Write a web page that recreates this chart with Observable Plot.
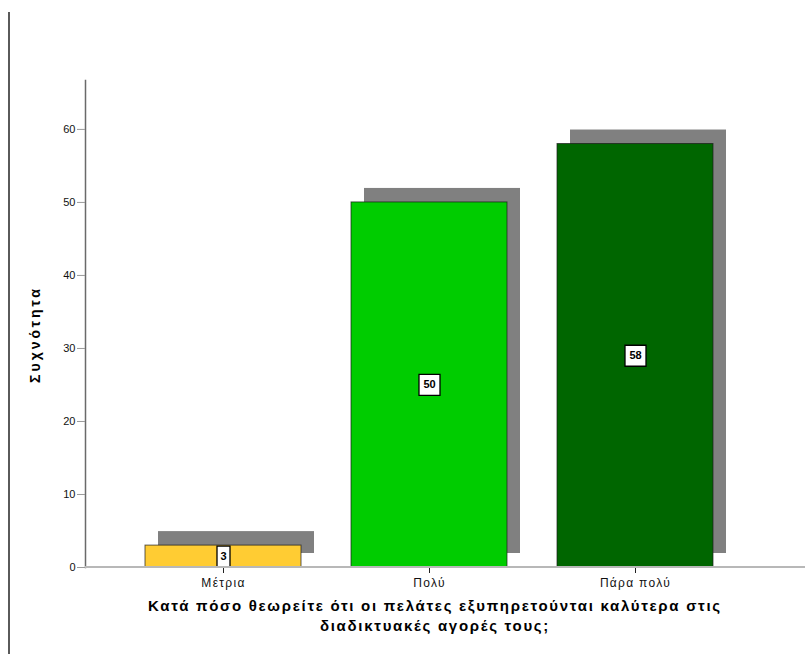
<!DOCTYPE html>
<html>
<head>
<meta charset="utf-8">
<script src="https://cdn.jsdelivr.net/npm/d3@7"></script>
<script src="https://cdn.jsdelivr.net/npm/@observablehq/plot@0.6"></script>
<style>
  html, body { margin: 0; padding: 0; background: #fff; }
  #wrap { position: relative; width: 805px; height: 654px; overflow: hidden; font-family: "Liberation Sans", Arial, sans-serif; }
  #edge { position: absolute; left: 8px; top: 12px; width: 2px; height: 642px; background: #5a5a5a; }
  #baseline { position: absolute; left: 85px; width: 720px; height: 2px; background: #b8b8b8; }
  #chart svg { display: block; }
  #title { position: absolute; left: 0; top: 596px; width: 805px; box-sizing: border-box; padding-left: 65px;
           text-align: center; font-weight: bold; font-size: 15px; line-height: 20px; letter-spacing: 1.7px; color: #000; }
</style>
</head>
<body>
<div id="wrap">
  <div id="edge"></div>
  <div id="chart"></div>
  <div id="baseline"></div>
  <div id="title">Κατά πόσο θεωρείτε ότι οι πελάτες εξυπηρετούνται καλύτερα στις<br>διαδικτυακές αγορές τους;</div>
</div>
<script>
// Response categories and their frequencies
const categories = ["Μέτρια", "Πολύ", "Πάρα πολύ"];
const counts = [3, 50, 58];
const barColors = ["#ffcc33", "#00cc00", "#006600"];
const yTicks = [0, 10, 20, 30, 40, 50, 60];
const yLabel = "Συχνότητα";

const data = categories.map((c, i) => ({category: c, count: counts[i]}));

// Fixed-size boxes behind the value labels
const box = (w, h) => ({draw(ctx) { ctx.rect(-w / 2, -h / 2, w, h); }});
const wideBox = box(21, 21);
const narrowBox = box(13, 21);

const chart = Plot.plot({
  width: 805,
  height: 595,
  marginLeft: 85,
  marginRight: 0,
  marginTop: 80,
  marginBottom: 28,
  style: {fontFamily: "Liberation Sans, Arial, sans-serif", background: "transparent"},
  x: {type: "band", domain: categories, range: [85, 772], paddingInner: 0.245, paddingOuter: 0.286, label: null},
  y: {domain: [0, 66.7], label: null},
  color: {domain: categories, range: barColors},
  marks: [
    // drop shadows
    Plot.barY(data, {x: "category", y: "count", fill: "#808080", dx: 13, dy: -14}),
    Plot.barY(data, {x: "category", y: "count", fill: "category", stroke: "#1a1a1a", strokeOpacity: 0.7, strokeWidth: 1}),
    Plot.frame({anchor: "left", stroke: "#6a6a6a", strokeWidth: 1.5}),
    Plot.axisY({ticks: yTicks, tickSize: 8, tickPadding: 2, fontSize: 11, stroke: "#9a9a9a", color: "#111", tickFormat: d3.format("d")}),
    Plot.axisX({tickSize: 6, tickPadding: 5, fontSize: 12, stroke: "#222", color: "#111"}),
    Plot.text([yLabel], {frameAnchor: "left", textAnchor: "middle", rotate: -90, dx: -50, dy: 10.5, fontSize: 14, fontWeight: "bold", fill: "#000"}),
    // value labels at the middle of each bar
    Plot.dot(data.filter(d => d.count >= 10), {x: "category", y: d => d.count / 2, symbol: wideBox, fill: "#fff", stroke: "#000", strokeWidth: 1.3}),
    Plot.dot(data.filter(d => d.count < 10), {x: "category", y: d => d.count / 2, symbol: narrowBox, fill: "#fff", stroke: "#000", strokeWidth: 1.3}),
    Plot.text(data, {x: "category", y: d => d.count / 2, text: d => String(d.count), fontSize: 11, fontWeight: "bold", fill: "#000"})
  ]
});

const svg = d3.select(chart);
svg.selectAll("text").filter(function() { return this.textContent === yLabel; }).attr("letter-spacing", "3px");
svg.selectAll("g[aria-label='x-axis tick label'] text").attr("letter-spacing", "1.3px");

document.getElementById("chart").appendChild(chart);

// Baseline at zero, running across to the right edge of the chart
const y0 = chart.scale("y").apply(0);
document.getElementById("baseline").style.top = (y0 - 1) + "px";
</script>
</body>
</html>
